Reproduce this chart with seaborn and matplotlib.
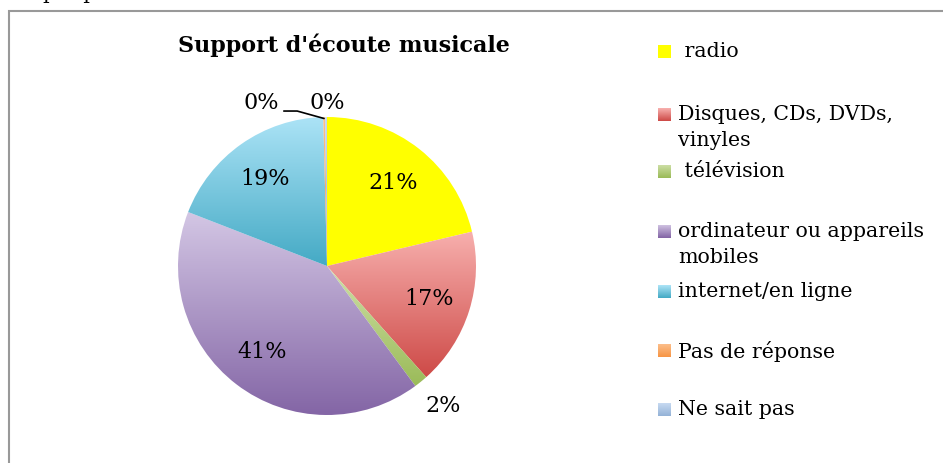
import numpy as np
import matplotlib
matplotlib.use("Agg")
import matplotlib.pyplot as plt
import seaborn as sns
from matplotlib.patches import Rectangle
from matplotlib.colors import LinearSegmentedColormap

sns.set_theme(style="white")
plt.rcParams['font.family'] = ['DejaVu Serif']
plt.rcParams['text.color'] = 'black'

# data
legend_labels = [" radio", "Disques, CDs, DVDs,\nvinyles", " télévision",
                 "ordinateur ou appareils\nmobiles", "internet/en ligne",
                 "Pas de réponse", "Ne sait pas"]
values = [21.3, 17.1, 1.5, 41.0, 18.7, 0.2, 0.2]
# light (top) -> dark (bottom) gradient colours
light_cols = ["#FFFF00", "#F7AFAD", "#CFE0A8", "#D3C6E4", "#ABE3F6", "#FCC08E", "#C6D9F1"]
dark_cols = ["#FFFF00", "#CE4B48", "#9BBB59", "#8466A6", "#45AAC5", "#F79646", "#95B3D7"]

fig = plt.figure(figsize=(9.43, 4.64), dpi=100)
W, H = 943, 464

# frame of the chart area
fig.patches.append(Rectangle((9 / W, -0.1), 1.0, 1 - 12 / H + 0.1, transform=fig.transFigure,
                             fill=False, edgecolor="#999999", linewidth=1.5))
# caption above the frame, cut by the page edge
fig.text(4 / W, 1 + 1 / H, "Graphique 3", fontsize=15, ha="left", va="baseline")

cx, cy, r = 327, 267, 149
ax = fig.add_axes([(cx - r) / W, (H - cy - r) / H, 2 * r / W, 2 * r / H])
wedges, texts, autotexts = ax.pie(values, startangle=90, counterclock=False,
                                  autopct='%.0f%%', pctdistance=0.72,
                                  textprops=dict(fontsize=16, color="black"),
                                  wedgeprops=dict(linewidth=0))
ax.set_aspect("equal")
ax.axis("off")

# gradient fill inside each wedge
for w, lc, dc in zip(wedges, light_cols, dark_cols):
    ext = w.get_path().get_extents(w.get_transform() - ax.transData)
    cmap = LinearSegmentedColormap.from_list("g", [dc, lc])
    grad = np.linspace(0, 1, 100).reshape(-1, 1)
    im = ax.imshow(grad, cmap=cmap, origin="lower", aspect="auto",
                   extent=[ext.x0, ext.x1, ext.y0, ext.y1], zorder=1)
    im.set_clip_path(w)
    w.set_facecolor("none")
ax.set_xlim(-1, 1)
ax.set_ylim(-1, 1)

# move small-slice labels outside
autotexts[2].set_position((0.78, -0.93))
autotexts[5].set_position((-0.44, 1.1))
autotexts[6].set_position((0.0, 1.1))
ax.plot([-0.29, -0.2, -0.02], [1.04, 1.04, 0.99], color="black", linewidth=1.2, clip_on=False)
for t in autotexts:
    t.set_clip_on(False)

fig.text(344 / W, 1 - 45 / H, "Support d'écoute musicale", fontsize=16,
         fontweight="bold", ha="center", va="center")

# legend
ys = [52, 115, 172, 232, 292, 351, 410]
for lab, lc, dc, y in zip(legend_labels, light_cols, dark_cols, ys):
    sax = fig.add_axes([658 / W, (H - y - 7) / H, 13 / W, 13 / H])
    cmap = LinearSegmentedColormap.from_list("g", [dc, lc])
    sax.imshow(np.linspace(0, 1, 20).reshape(-1, 1), cmap=cmap, origin="lower", aspect="auto")
    sax.axis("off")
    fig.text(678 / W, 1 - (y - 10) / H, lab, fontsize=14.8, ha="left", va="top",
             linespacing=1.45)

fig.savefig("out.png", dpi=100)
